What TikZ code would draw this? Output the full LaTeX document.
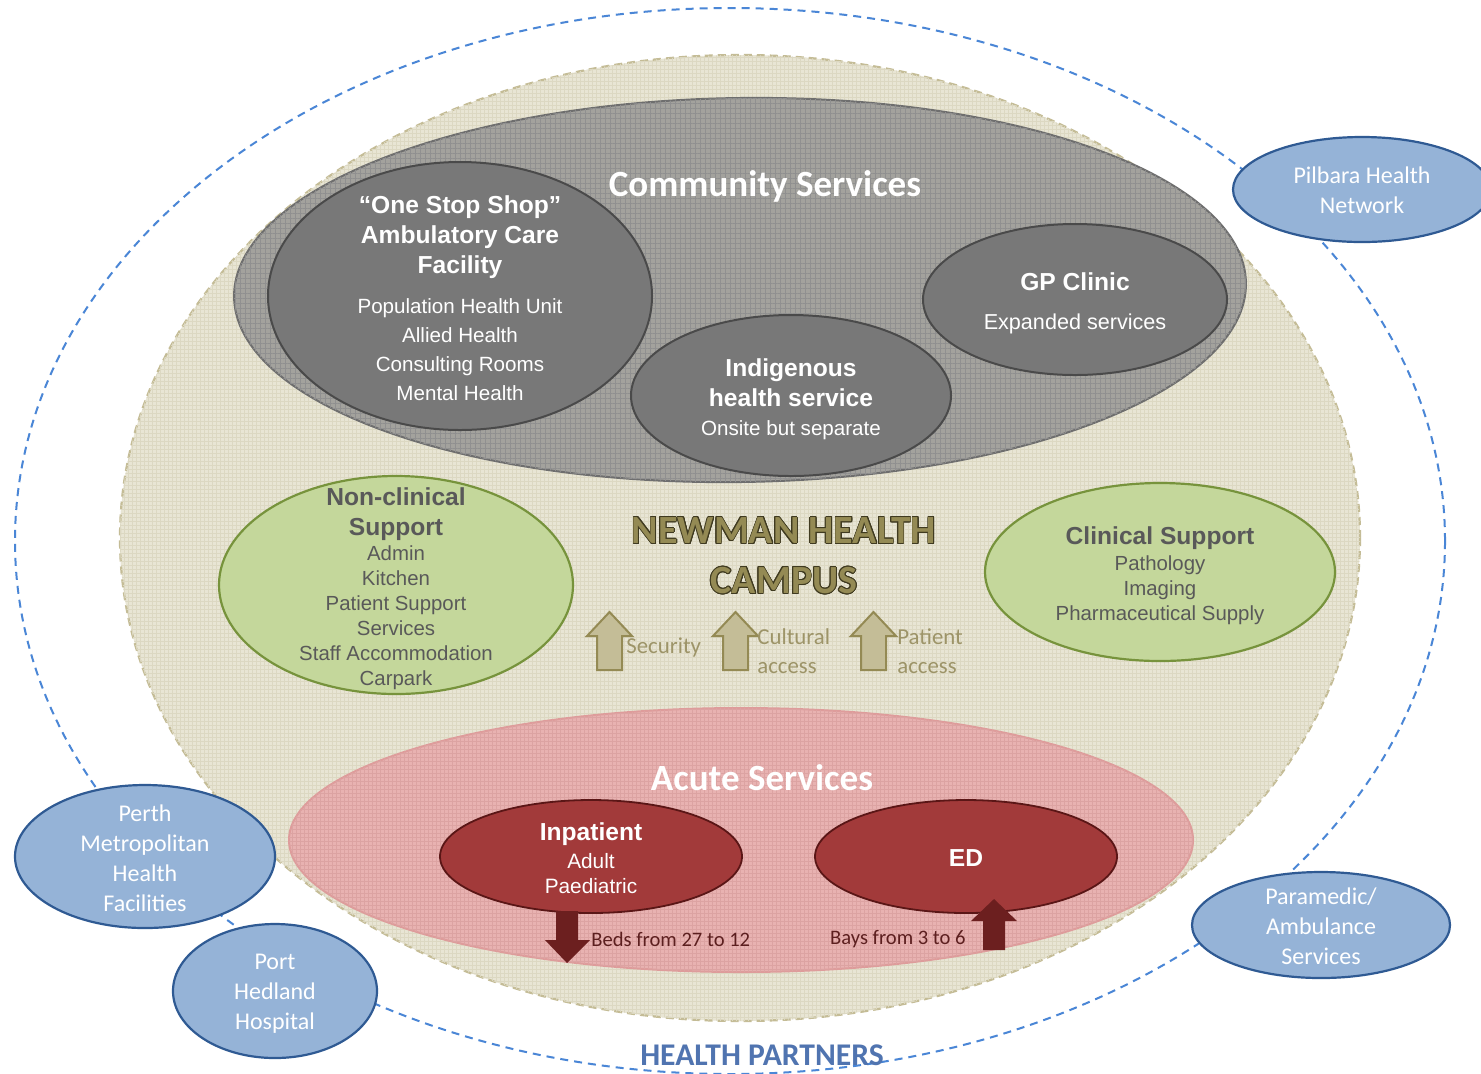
\documentclass[tikz,border=0pt]{standalone}
\usepackage{fontspec}
\setmainfont{Liberation Sans}
\newfontfamily\carl{Carlito}
\usepackage{contour}
\contourlength{0.4pt}
\usetikzlibrary{shapes.geometric,patterns.meta}
\definecolor{outerblue}{HTML}{4A86D6}
\definecolor{beigefill}{HTML}{E8E5D4}
\definecolor{beigeline}{HTML}{C4BC96}
\definecolor{beigegrid}{HTML}{DCD8C2}
\definecolor{commfill}{HTML}{A3A29D}
\definecolor{commgrid}{HTML}{909090}
\definecolor{commline}{HTML}{6E6E6E}
\definecolor{darkfill}{HTML}{787878}
\definecolor{darkline}{HTML}{4A4A4A}
\definecolor{greenfill}{HTML}{C4D79B}
\definecolor{greenline}{HTML}{77933C}
\definecolor{greytext}{HTML}{595959}
\definecolor{pinkfill}{HTML}{E8B2B1}
\definecolor{pinkline}{HTML}{DE9C9B}
\definecolor{pinkgrid}{HTML}{DCA3A2}
\definecolor{redfill}{HTML}{A23A3A}
\definecolor{redline}{HTML}{5A1616}
\definecolor{redarrow}{HTML}{6C1F1F}
\definecolor{redtext}{HTML}{5C1F1F}
\definecolor{bluefill}{HTML}{95B3D7}
\definecolor{blueline}{HTML}{2F5A93}
\definecolor{tanfill}{HTML}{C4BD97}
\definecolor{tanline}{HTML}{948A54}
\definecolor{tantext}{HTML}{9D9468}
\definecolor{newolive}{HTML}{948A54}
\definecolor{newdark}{HTML}{3F3A20}
\definecolor{hpblue}{HTML}{5074B0}
\begin{document}
\begin{tikzpicture}[x=0.5pt,y=-0.5pt,
  ov/.style={ellipse, inner sep=0pt, outer sep=0pt},
  darkov/.style={ov, draw=darkline, line width=1pt, fill=darkfill},
  greenov/.style={ov, draw=greenline, line width=1.1pt, fill=greenfill},
  redov/.style={ov, draw=redline, line width=0.9pt, fill=redfill},
  blueov/.style={ov, draw=blueline, line width=1.1pt, fill=bluefill},
  txt/.style={inner sep=0pt, align=center},
  whbold/.style={txt, text=white, font=\bfseries\fontsize{12.3}{15}\selectfont},
  whreg/.style={txt, text=white, font=\fontsize{10.3}{14.5}\selectfont},
  grbold/.style={txt, text=greytext, font=\bfseries\fontsize{12.3}{15}\selectfont},
  grreg/.style={txt, text=greytext, font=\fontsize{10.2}{12.5}\selectfont},
  bluetxt/.style={txt, text=white, font=\carl\fontsize{12}{15}\selectfont},
  headtxt/.style={txt, text=white, font=\carl\bfseries\fontsize{18.5}{22}\selectfont},
  tantxt/.style={inner sep=0pt, align=left, text=tantext, font=\carl\fontsize{11.4}{14.5}\selectfont},
  redtxt/.style={inner sep=0pt, text=redtext, font=\carl\fontsize{10.3}{12}\selectfont},
  tanarrow/.pic={\filldraw[fill=tanfill, draw=tanline, line width=1pt, line join=miter]
     (0,0) -- (22.5,24) -- (12.5,24) -- (12.5,58) -- (-12.5,58) -- (-12.5,24) -- (-22.5,24) -- cycle;}
]
\useasboundingbox (0,0) rectangle (1481,1073);
\fill[white] (0,0) rectangle (1481,1073);

% outer health partners ring
\node[ov, draw=outerblue, line width=1pt, dash pattern=on 4pt off 3pt,
  minimum width=715pt, minimum height=533pt] (partners) at (730,541) {};

% campus
\node[ov, draw=beigeline, line width=1.1pt, dash pattern=on 4pt off 2.5pt, fill=beigefill,
  postaction={pattern={Hatch[angle=0,distance=2pt,line width=0.25pt]}, pattern color=beigegrid},
  minimum width=620pt, minimum height=483pt] (campus) at (740,538) {};

% community services
\node[ov, draw=commline, line width=1pt, fill=commfill,
  postaction={pattern={Hatch[angle=0,distance=2.5pt,line width=0.3pt]}, pattern color=commgrid},
  rotate=0.8, minimum width=506pt, minimum height=192pt] (community) at (740,290) {};
\node[headtxt] (commtitle) at (765,186) {Community Services};

\node[darkov, minimum width=192pt, minimum height=134pt] (onestop) at (460,296) {};
\node[whbold] (onestoptitle) at (460,237) {“One Stop Shop”\\Ambulatory Care\\Facility};
\node[whreg] (onestopbody) at (460,350) {Population Health Unit\\Allied Health\\Consulting Rooms\\Mental Health};

\node[darkov, minimum width=160pt, minimum height=80.5pt] (indig) at (791,395.5) {};
\node[whbold] (indigtitle) at (791,383) {Indigenous\\health service};
\node[whreg] (indigbody) at (791,430) {Onsite but separate};

\node[darkov, minimum width=152pt, minimum height=75.5pt] (gp) at (1075,299.5) {};
\node[whbold] (gptitle) at (1075,282) {GP Clinic};
\node[whreg, font=\fontsize{10.8}{14.5}\selectfont] (gpbody) at (1075,324) {Expanded services};

% support
\node[greenov, minimum width=177pt, minimum height=109pt] (nonclin) at (396,585) {};
\node[grbold] (nonclintitle) at (396,514) {Non-clinical\\Support};
\node[grreg] (nonclinbody) at (396,618) {Admin\\Kitchen\\Patient Support\\Services\\Staff Accommodation\\Carpark};

\node[greenov, minimum width=175pt, minimum height=89pt] (clin) at (1160,572) {};
\node[grbold] (clintitle) at (1160,538) {Clinical Support};
\node[grreg] (clinbody) at (1160,590) {Pathology\\Imaging\\Pharmaceutical Supply};

% campus title
\node[txt, text=newolive, font=\carl\bfseries\fontsize{20}{25}\selectfont] (newman) at (784,556)
  {\contour{newdark}{NEWMAN HEALTH}\\\contour{newdark}{CAMPUS}};

% tan arrows
\pic at (609.5,612) {tanarrow};
\pic at (735.5,612) {tanarrow};
\pic at (873.5,612) {tanarrow};
\node[tantxt, anchor=west] (security) at (626,647) {Security};
\node[tantxt, anchor=west] (cultural) at (757,651) {Cultural\\access};
\node[tantxt, anchor=west] (patient) at (897,651) {Patient\\access};

% acute services
\node[ov, draw=pinkline, line width=1pt, fill=pinkfill,
  postaction={pattern={Hatch[angle=0,distance=2pt,line width=0.25pt]}, pattern color=pinkgrid},
  minimum width=452pt, minimum height=132pt] (acute) at (741,840) {};
\node[headtxt] (acutetitle) at (762,778) {Acute Services};

\node[redov, minimum width=151pt, minimum height=56.5pt] (inpat) at (591,856.5) {};
\node[whbold] (inpattitle) at (591,834) {Inpatient};
\node[whreg, font=\fontsize{10.4}{12.5}\selectfont] (inpatbody) at (591,874) {Adult\\Paediatric};

\node[redov, minimum width=151pt, minimum height=56.5pt] (ed) at (966,856.5) {};
\node[whbold] (edtitle) at (966,858) {ED};

% red arrows
\fill[redarrow] (556,911) -- (578,911) -- (578,940) -- (590,940) -- (567,963) -- (545,940) -- (556,940) -- cycle;
\fill[redarrow] (994,899) -- (1017,921) -- (1005,921) -- (1005,950) -- (983,950) -- (983,921) -- (971,921) -- cycle;
\node[redtxt, anchor=west] (beds) at (591,939) {Beds from 27 to 12};
\node[redtxt, anchor=east] (bays) at (966,939) {Bays from 3 to 6};

% health partners
\node[blueov, minimum width=129pt, minimum height=52.5pt] (pilbara) at (1362,189.5) {};
\node[bluetxt] (pilbaratxt) at (1362,190) {Pilbara Health\\Network};

\node[blueov, minimum width=130pt, minimum height=71.5pt] (perth) at (145,856.5) {};
\node[bluetxt] (perthtxt) at (145,858) {Perth\\Metropolitan\\Health\\Facilities};

\node[blueov, minimum width=102pt, minimum height=67pt] (hedland) at (275,991) {};
\node[bluetxt] (hedlandtxt) at (275,994) {Port\\Hedland\\Hospital};

\node[blueov, minimum width=129pt, minimum height=53pt] (paramedic) at (1321,925) {};
\node[bluetxt] (paramedictxt) at (1321,926) {Paramedic/\\Ambulance\\Services};

\node[txt, text=hpblue, font=\carl\bfseries\fontsize{15.8}{18}\selectfont] (hptitle) at (762,1055) {HEALTH PARTNERS};
\end{tikzpicture}
\end{document}
